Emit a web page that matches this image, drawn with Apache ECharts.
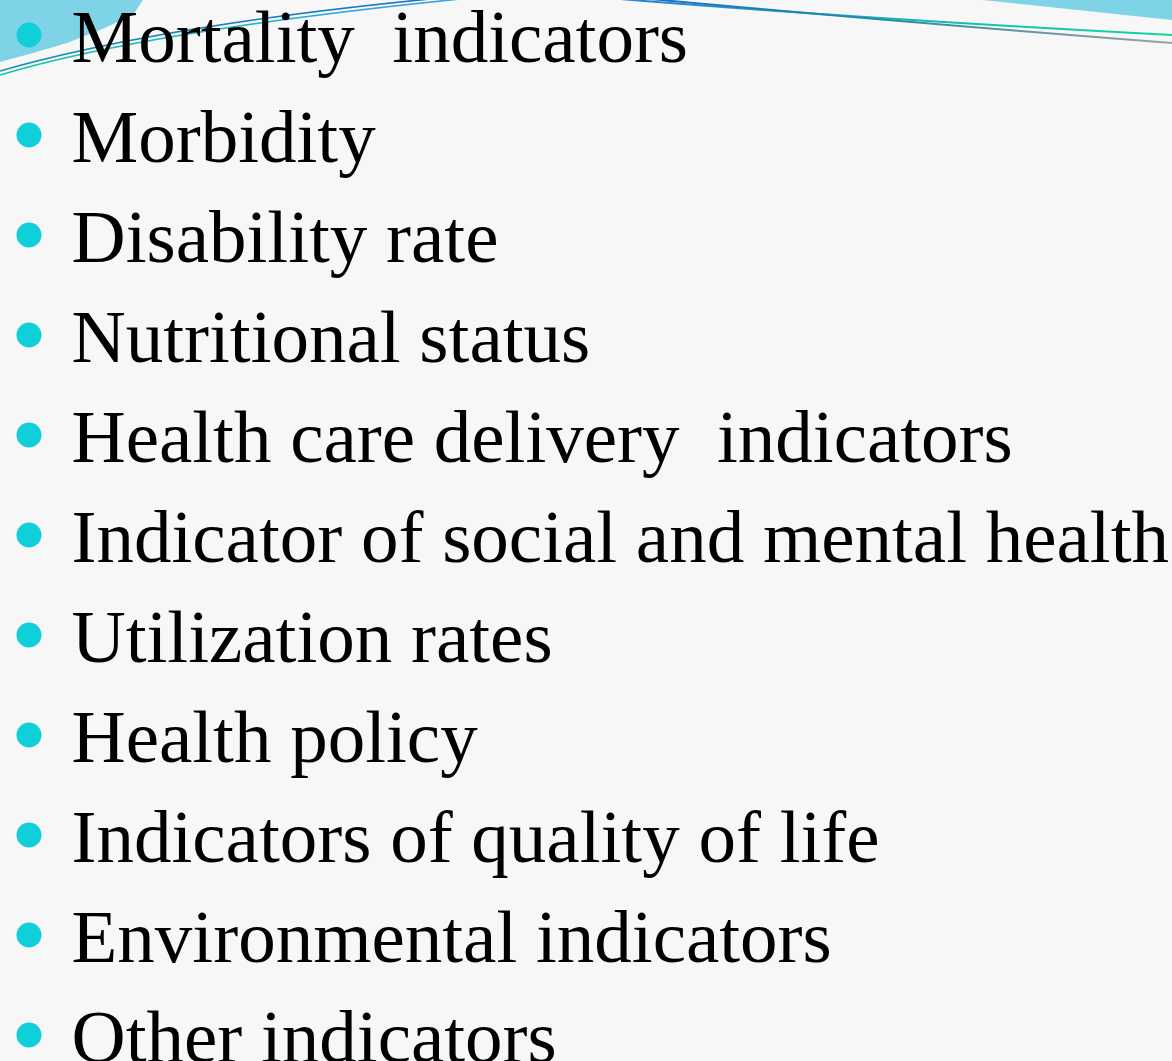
<!DOCTYPE html>
<html>
<head>
<meta charset="utf-8">
<style>
html,body{margin:0;padding:0;background:#f7f7f7;}
#c{width:1172px;height:1061px;}
</style>
<script src="https://cdn.jsdelivr.net/npm/echarts@6/dist/echarts.min.js"></script>
</head>
<body>
<div id="c"></div>
<script>
// Bullet list items (categories)
const items = [
  'Mortality  indicators',
  'Morbidity',
  'Disability rate',
  'Nutritional status',
  'Health care delivery  indicators',
  'Indicator of social and mental health',
  'Utilization rates',
  'Health policy',
  'Indicators of quality of life',
  'Environmental indicators',
  'Other indicators'
];
// every bullet sits at the same x value
const bulletValues = items.map(() => 0);

const chart = echarts.init(document.getElementById('c'), null, {renderer: 'canvas'});
const G = echarts.graphic;

const option = {
  backgroundColor: '#f7f7f7',
  animation: false,
  grid: {left: 29, right: 20, top: 35, bottom: 26},
  xAxis: {type: 'value', min: 0, max: 1, show: false},
  yAxis: {type: 'category', data: items, inverse: true, boundaryGap: false, show: false},
  graphic: [
    {type: 'polygon', z: -1, silent: true,
      shape: {points: [[0,0],[143,0],[133,15],[100,30],[67,43],[33,53],[0,62]]},
      style: {fill: '#7fd3e6'}},
    {type: 'polygon', z: -1, silent: true,
      shape: {points: [[983,0],[1172,0],[1172,20]]},
      style: {fill: '#7fd3e6'}},
    {type: 'bezierCurve', z: 0, silent: true,
      shape: {x1: 0, y1: 75, cpx1: 150, cpy1: 30, x2: 470, y2: -2},
      style: {fill: 'none', lineWidth: 1.6,
        stroke: new G.LinearGradient(0,0,1,0,[{offset:0,color:'#14c8a8'},{offset:1,color:'#3aa0e0'}])}},
    {type: 'bezierCurve', z: 0, silent: true,
      shape: {x1: 0, y1: 71, cpx1: 160, cpy1: 25, x2: 440, y2: -2},
      style: {fill: 'none', lineWidth: 1.6,
        stroke: new G.LinearGradient(0,0,1,0,[{offset:0,color:'#1a8fb0'},{offset:1,color:'#1a6fd0'}])}},
    {type: 'bezierCurve', z: 0, silent: true,
      shape: {x1: 620, y1: -1, cpx1: 850, cpy1: 18, x2: 1172, y2: 35},
      style: {fill: 'none', lineWidth: 2,
        stroke: new G.LinearGradient(0,0,1,0,[{offset:0,color:'#2a7fd8'},{offset:0.5,color:'#10b8b0'},{offset:1,color:'#10d8a0'}])}},
    {type: 'bezierCurve', z: 0, silent: true,
      shape: {x1: 650, y1: -1, cpx1: 900, cpy1: 22, x2: 1172, y2: 43},
      style: {fill: 'none', lineWidth: 2,
        stroke: new G.LinearGradient(0,0,1,0,[{offset:0,color:'#1a6fd0'},{offset:0.45,color:'#2a8aa0'},{offset:1,color:'#a0a0a0'}])}}
  ],
  series: [{
    type: 'scatter',
    symbol: 'circle',
    symbolSize: 25,
    itemStyle: {color: '#10cfd9', opacity: 1},
    emphasis: {disabled: true},
    data: items.map((name, i) => ({name: name, value: [bulletValues[i], name]})),
    label: {
      show: true,
      position: 'right',
      distance: 30,
      formatter: '{b}',
      fontFamily: '"Liberation Serif", "Times New Roman", serif',
      fontSize: 75,
      color: '#000000',
      opacity: 1,
      offset: [0, 7]
    },
    z: 3
  }]
};
chart.setOption(option);
</script>
</body>
</html>
